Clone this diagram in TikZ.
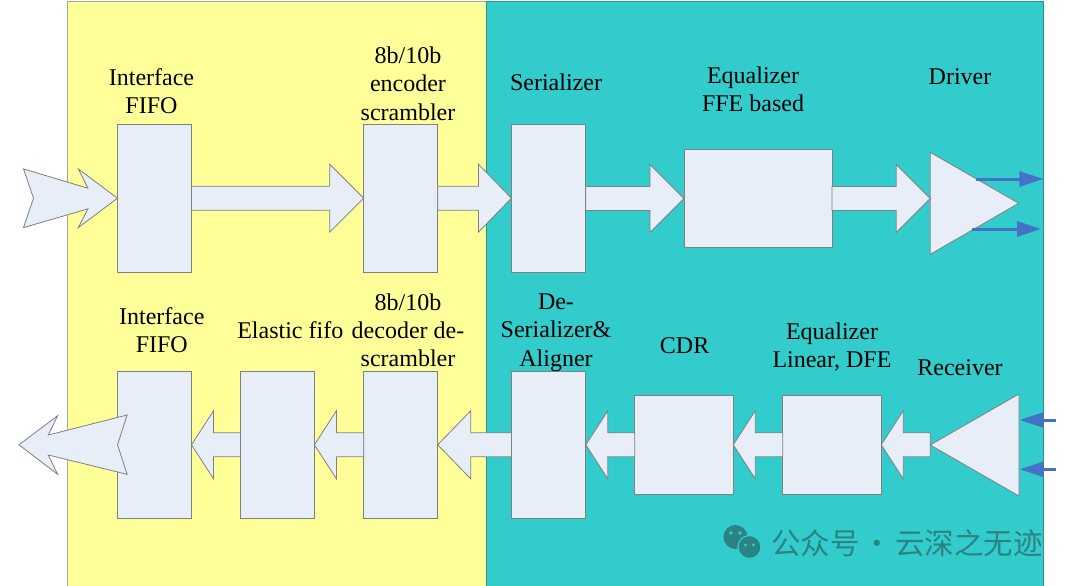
\documentclass[tikz,border=0pt]{standalone}
\usepackage{fontspec}
\setmainfont{Liberation Serif}
\newfontfamily\cjk{Noto Sans CJK SC}
\usetikzlibrary{calc,shapes.geometric,arrows.meta}
\definecolor{padyellow}{HTML}{FFFF99}
\definecolor{phyteal}{HTML}{33CCCC}
\definecolor{tealline}{HTML}{2F8F8F}
\definecolor{boxfill}{HTML}{E8EEF8}
\definecolor{boxline}{HTML}{808080}
\definecolor{sigblue}{HTML}{4472C4}
\definecolor{wmark}{HTML}{2B8383}

\begin{document}
\begin{tikzpicture}[x=1pt,y=-1pt,
  blk/.style={draw=boxline, fill=boxfill, line width=0.8pt, inner sep=0pt, outer sep=0pt},
  tri/.style={blk, isosceles triangle, isosceles triangle stretches},
  fat/.style={draw=boxline, fill=boxfill, line width=0.8pt, line join=miter},
  fatr/.style={fat, to path={let \p1=(\tikztostart), \p2=(\tikztotarget) in
    (\x1,{\y2+12pt}) -- ({\x2-#1},{\y2+12pt}) -- ({\x2-#1},{\y2+34pt}) -- (\p2)
    -- ({\x2-#1},{\y2-34pt}) -- ({\x2-#1},{\y2-12pt}) -- (\x1,{\y2-12pt}) -- cycle}},
  fatr/.default=34pt,
  fatl/.style={fat, to path={let \p1=(\tikztostart), \p2=(\tikztotarget) in
    (\x1,{\y2+12pt}) -- ({\x2+#1},{\y2+12pt}) -- ({\x2+#1},{\y2+34pt}) -- (\p2)
    -- ({\x2+#1},{\y2-34pt}) -- ({\x2+#1},{\y2-12pt}) -- (\x1,{\y2-12pt}) -- cycle}},
  fatl/.default=22pt,
  txt/.style={font=\fontsize{24}{28.3}\selectfont, align=center, inner sep=0pt},
  sig/.style={draw=sigblue, line width=3pt, -{Triangle[length=24pt,width=15pt]}}]
\useasboundingbox (0,0) rectangle (1080,586);

% digital part and analog part
\fill[padyellow] (67.8,1.3) rectangle (486.6,586);
\draw[boxline!70, line width=0.8pt] (67.8,586) -- (67.8,1.3) -- (486.6,1.3);
\fill[phyteal] (486.6,1.3) rectangle (1043.4,586);
\draw[tealline, line width=0.8pt] (486.6,586) -- (486.6,1.3) -- (1043.4,1.3) -- (1043.4,586);

% transmit path
\node[blk, minimum width=74pt, minimum height=148pt] (ififo) at (154.5,198.2) {};
\node[blk, minimum width=74pt, minimum height=148pt] (enc) at (400.7,198.2) {};
\node[blk, minimum width=74.4pt, minimum height=148pt] (ser) at (548.6,198.2) {};
\node[blk, minimum width=148pt, minimum height=98.4pt] (ffe) at (758,198.5) {};
\node[tri, minimum width=102pt, minimum height=88.5pt, anchor=west] (drv) at (930.2,203.3) {};

% receive path
\node[blk, minimum width=74pt, minimum height=147pt] (ofifo) at (154.5,444.8) {};
\node[blk, minimum width=74pt, minimum height=147pt] (efifo) at (277.4,444.8) {};
\node[blk, minimum width=74pt, minimum height=147pt] (dec) at (400.7,444.8) {};
\node[blk, minimum width=74.4pt, minimum height=147pt] (deser) at (548.6,444.8) {};
\node[blk, minimum width=98.5pt, minimum height=99pt] (cdr) at (684,444.8) {};
\node[blk, minimum width=98.5pt, minimum height=99pt] (eqrx) at (832,444.8) {};
\node[tri, shape border rotate=180, minimum width=102pt, minimum height=88.8pt, anchor=east] (rx) at (1019,445) {};

\draw[fat] ($(ififo.west)+(-94,-29.3)$) -- ($(ififo.west)+(-29.6,-10)$) -- ($(ififo.west)+(-39.2,-29.3)$)
  -- (ififo.west) -- ($(ififo.west)+(-39.2,29.4)$) -- ($(ififo.west)+(-29.6,10.7)$)
  -- ($(ififo.west)+(-94,29.4)$) -- ($(ififo.west)+(-84,0)$) -- cycle;
\draw[fatr] (ififo.east) to (enc.west);
\draw[fatr=33pt] (enc.east) to (ser.west);
\draw[fatr] (ser.east) to (ffe.west);
\draw[fatr] (ffe.east) to (drv.west |- ffe.east);

\draw[fatl] (rx.west) to (eqrx.east);
\draw[fatl] (eqrx.west) to (cdr.east);
\draw[fatl] (cdr.west) to (deser.east);
\draw[fatl=33pt] (deser.west) to (dec.east);
\draw[fatl] (dec.west) to (efifo.east);
\draw[fatl] (efifo.west) to (ofifo.east);
\draw[fat] (ofifo.west) -- ($(ofifo.west)+(9.6,-29.8)$) -- ($(ofifo.west)+(-69.2,-9.8)$)
  -- ($(ofifo.west)+(-59.9,-29.1)$) -- ($(ofifo.west)+(-98.5,0)$) -- ($(ofifo.west)+(-59.9,29.5)$)
  -- ($(ofifo.west)+(-69.2,10.2)$) -- ($(ofifo.west)+(9.6,29.5)$) -- cycle;

% serial lines
\coordinate (txp) at (975.6,179);
\coordinate (txpo) at (1043.4,179);
\coordinate (txn) at (972,229);
\coordinate (txno) at (1041,229);
\coordinate (rxpi) at (1055.5,420);
\coordinate (rxp) at (1019.7,420);
\coordinate (rxni) at (1055.5,469.3);
\coordinate (rxn) at (1019.7,469.3);
\draw[sig] (txp) -- (txpo);
\draw[sig] (txn) -- (txno);
\draw[sig] (rxpi) -- (rxp);
\draw[sig] (rxni) -- (rxn);

% block names
\node[txt] (tififo) at (151.5,91) {Interface\\FIFO};
\node[txt] (tenc) at (408,83.5) {8b/10b\\encoder\\scrambler};
\node[txt] (tser) at (556,81.8) {Serializer};
\node[txt] (tffe) at (753,89.3) {Equalizer\\FFE based};
\node[txt] (tdrv) at (960,76.8) {Driver};
\node[txt] (tofifo) at (161.8,330.1) {Interface\\FIFO};
\node[txt] (tefifo) at (290.3,330.1) {Elastic fifo};
\node[txt] (tdec) at (408,330.1) {8b/10b\\decoder de-\\scrambler};
\node[txt] (tdeser) at (556,332.7) {De-\\Serializer\&\\Aligner};
\node[txt] (tcdr) at (684.6,345.4) {CDR};
\node[txt] (teqrx) at (832,347.3) {Equalizer\\Linear, DFE};
\node[txt] (trx) at (960,367.8) {Receiver};

% watermark
\fill[wmark] (735.5,537) circle (12);
\fill[wmark, draw=phyteal, line width=1.2pt] (749.5,547) circle (11.5);
\fill[phyteal] (731,533) circle (1.8) (740,533) circle (1.8) (745.5,545) circle (1.6) (753.5,545) circle (1.6);
\node[font=\cjk\fontsize{29.5}{31}\selectfont, text=wmark, inner sep=0pt] (wm) at (906.8,543) {公众号\hspace{3pt}·\hspace{3pt}云深之无迹};
\end{tikzpicture}
\end{document}
